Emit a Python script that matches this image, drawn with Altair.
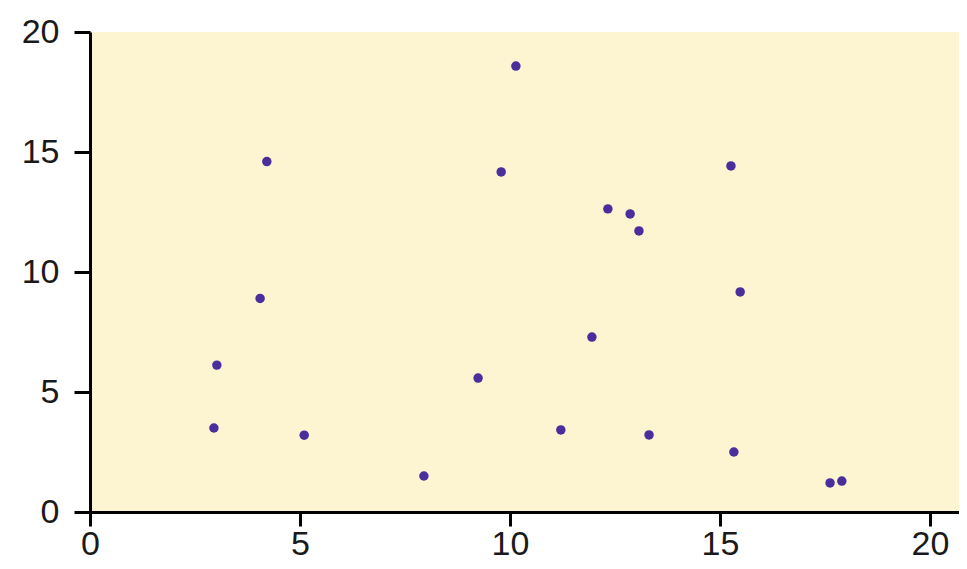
import altair as alt
import pandas as pd

xs = [2.95, 3.02, 4.05, 4.21, 5.1, 7.95, 9.24, 9.79, 10.14, 11.21, 11.95,
      12.33, 12.86, 13.07, 13.31, 15.26, 15.48, 15.33, 17.62, 17.9]
ys = [3.5, 6.12, 8.9, 14.6, 3.2, 1.5, 5.58, 14.17, 18.58, 3.42, 7.29,
      12.63, 12.42, 11.71, 3.21, 14.42, 9.17, 2.5, 1.21, 1.29]
ticks = [0, 5, 10, 15, 20]

df = pd.DataFrame({"x": xs, "y": ys})

axis_common = dict(
    values=ticks, grid=False, domainColor="black", domainWidth=3,
    tickColor="black", tickWidth=3, labelFontSize=34, labelFlush=False,
    labelColor="#1a1a1a", labelFont="Liberation Sans", title=None,
)

chart = alt.Chart(df).mark_circle(size=90, opacity=1, color="#4a2f9c").encode(
    x=alt.X("x:Q", scale=alt.Scale(domain=[0, 20.69], nice=False, zero=False),
            axis=alt.Axis(labelPadding=1, tickSize=14, **axis_common)),
    y=alt.Y("y:Q", scale=alt.Scale(domain=[0, 20], nice=False),
            axis=alt.Axis(labelPadding=15, tickSize=16, **axis_common)),
).properties(
    width=869, height=480,
    autosize=alt.AutoSizeParams(type="none"),
    padding={"left": 82, "top": 24, "right": 0, "bottom": 48},
).configure_view(fill="#fdf5d2", stroke=None)

chart.save("out.html", embed_options={"renderer": "svg", "actions": False})
